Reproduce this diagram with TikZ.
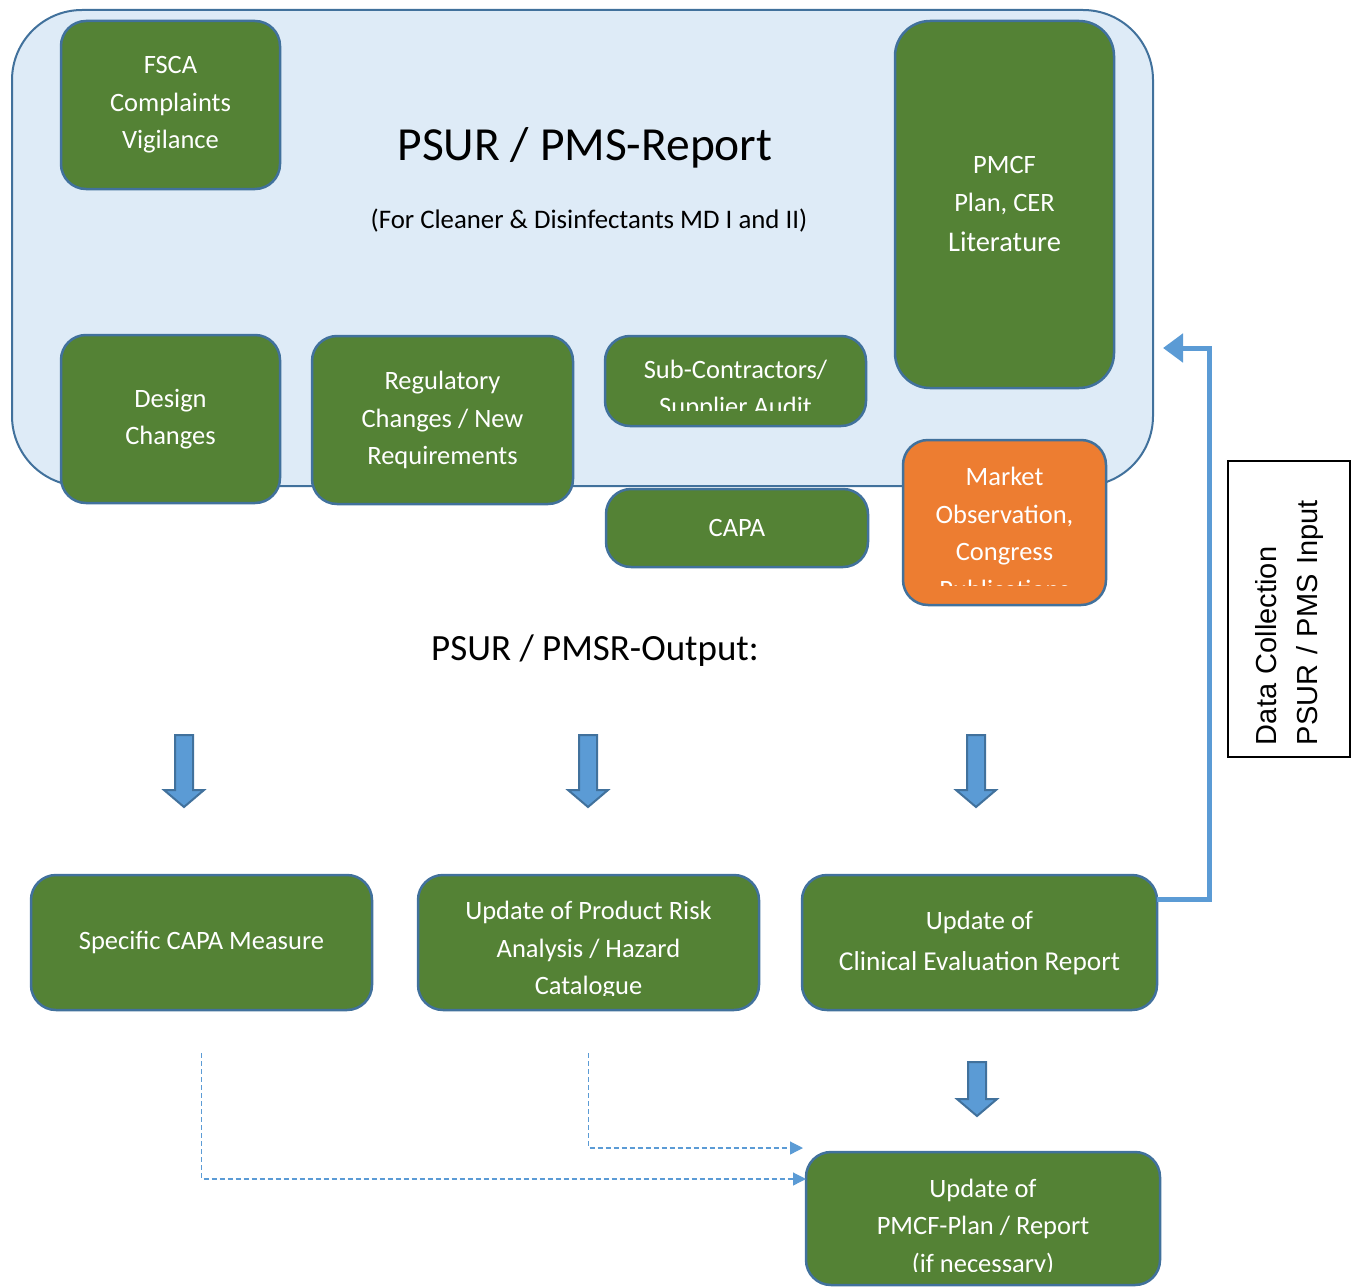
\documentclass[tikz,border=0pt]{standalone}
\usepackage{fontspec}
\setmainfont{Carlito}
\newfontfamily\arialfont{Liberation Sans}
\usetikzlibrary{arrows.meta}
\definecolor{verdeCaja}{HTML}{548235}
\definecolor{bordeCaja}{HTML}{41719C}
\definecolor{fondoInforme}{HTML}{DEEBF7}
\definecolor{naranjaCaja}{HTML}{ED7D31}
\definecolor{azulFlecha}{HTML}{5B9BD5}
\begin{document}
\begin{tikzpicture}[x=1pt,y=-1pt,
    caja/.style={draw=bordeCaja,line width=2.5pt,fill=verdeCaja,rounded corners=25pt,
        text=white,align=center,inner sep=0pt,outer sep=0pt,anchor=north west,
        font=\fontsize{26.5}{37.5}\selectfont},
    texto/.style={text=white,align=center,inner sep=0pt,font=\fontsize{26.5}{37.5}\selectfont},
    bloque/.style={draw=bordeCaja,line width=2pt,fill=azulFlecha},
    punteada/.style={draw=azulFlecha,line width=1.2pt,dash pattern=on 5pt off 3pt,
        -{Triangle[length=13pt,width=13pt]}},
    retro/.style={draw=azulFlecha,line width=5pt,-{Triangle[length=20pt,width=28pt]}}]
\useasboundingbox (0,0) rectangle (1356,1287);

    %Informe PSUR
    \node[draw=bordeCaja,line width=2pt,fill=fondoInforme,rounded corners=70pt,anchor=north west,
        outer sep=0pt,minimum width=1141pt,minimum height=476pt] (informe) at (12,10) {};
    \node[font=\fontsize{47.5}{50}\selectfont] (titulo) at (585,148) {PSUR / PMS-Report};
    \node[font=\fontsize{26.8}{30}\selectfont] (subtitulo) at (589,221) {(For Cleaner \& Disinfectants MD I and II)};

    %Cajas de entrada
    \node[caja,minimum width=219pt,minimum height=168pt] (fsca) at (61,21) {FSCA\\Complaints\\Vigilance};
    \node[caja,rounded corners=35pt,minimum width=219pt,minimum height=367pt] (pmcf) at (895,21)
        {PMCF\\Plan, CER\\[3pt]{\fontsize{28.5}{38}\selectfont Literature}};
    \node[caja,minimum width=219pt,minimum height=168pt] (diseno) at (61,335) {Design\\Changes};
    \node[caja,minimum width=261pt,minimum height=168pt] (regul) at (312,336) {Regulatory\\Changes / New\\Requirements};
    \node[caja,minimum width=261pt,minimum height=90pt] (subc) at (605,336) {};
    \begin{scope}
        \clip (605,336) rectangle (866,410);
        \node[texto] (subctxt) at (735.5,390) {Sub-Contractors/\\Supplier Audit};
    \end{scope}
    \node[caja,minimum width=262pt,minimum height=78pt] (capa) at (606,489) {CAPA};
    \node[caja,fill=naranjaCaja,minimum width=203pt,minimum height=165pt] (mercado) at (903,440) {};
    \begin{scope}
        \clip (903,440) rectangle (1106,585);
        \node[texto] (mercadotxt) at (1004.5,533) {Market\\Observation,\\Congress\\Publications};
    \end{scope}

    %Salida
    \node[font=\fontsize{37}{40}\selectfont] (salida) at (595,651) {PSUR / PMSR-Output:};
    \foreach \x/\ya/\yb in {184/735/807,588/735/807,976/735/807,977/1062/1116}{
        \draw[bloque] (\x-9,\ya) -- (\x+9,\ya) -- (\x+9,\yb-17) -- (\x+20,\yb-17)
            -- (\x,\yb) -- (\x-20,\yb-17) -- (\x-9,\yb-17) -- cycle;
    }

    %Cajas de salida
    \node[caja,minimum width=341pt,minimum height=135pt] (capam) at (31,875) {Specific CAPA Measure};
    \node[caja,minimum width=341pt,minimum height=135pt] (riesgo) at (418,875) {};
    \begin{scope}
        \clip (418,875) rectangle (759,995);
        \node[texto] (riesgotxt) at (588.5,950.5) {Update of Product Risk\\Analysis / Hazard\\Catalogue};
    \end{scope}
    \node[caja,minimum width=355pt,minimum height=135pt] (cer) at (802,875)
        {Update of\\[3.5pt]{\fontsize{27.3}{38}\selectfont Clinical Evaluation Report}};
    \node[caja,minimum width=354pt,minimum height=133pt] (pmcfp) at (806,1152) {};
    \begin{scope}
        \clip (806,1152) rectangle (1160,1271);
        \node[texto] (pmcfptxt) at (983,1227.5) {Update of\\PMCF-Plan / Report\\(if necessary)};
    \end{scope}

    %Flechas punteadas
    \draw[punteada] ([yshift=-43pt]capam.south) |- ([yshift=-27pt]pmcfp.north west);
    \draw[punteada] ([yshift=-43pt]riesgo.south) |- ([xshift=-3pt,yshift=4pt]pmcfp.north west);

    %Retroalimentacion
    \coordinate (entrada) at (1163,348);
    \draw[retro] ([yshift=43pt]cer.east) -- ++(52,0) |- (entrada);
    \node[draw=black,line width=1.5pt,rotate=90,minimum width=296pt,minimum height=122pt,
        text width=272pt,align=left,inner sep=0pt,font=\arialfont\fontsize{29}{41}\selectfont]
        (datos) at (1289,609) {Data Collection\\PSUR / PMS Input};
\end{tikzpicture}
\end{document}
